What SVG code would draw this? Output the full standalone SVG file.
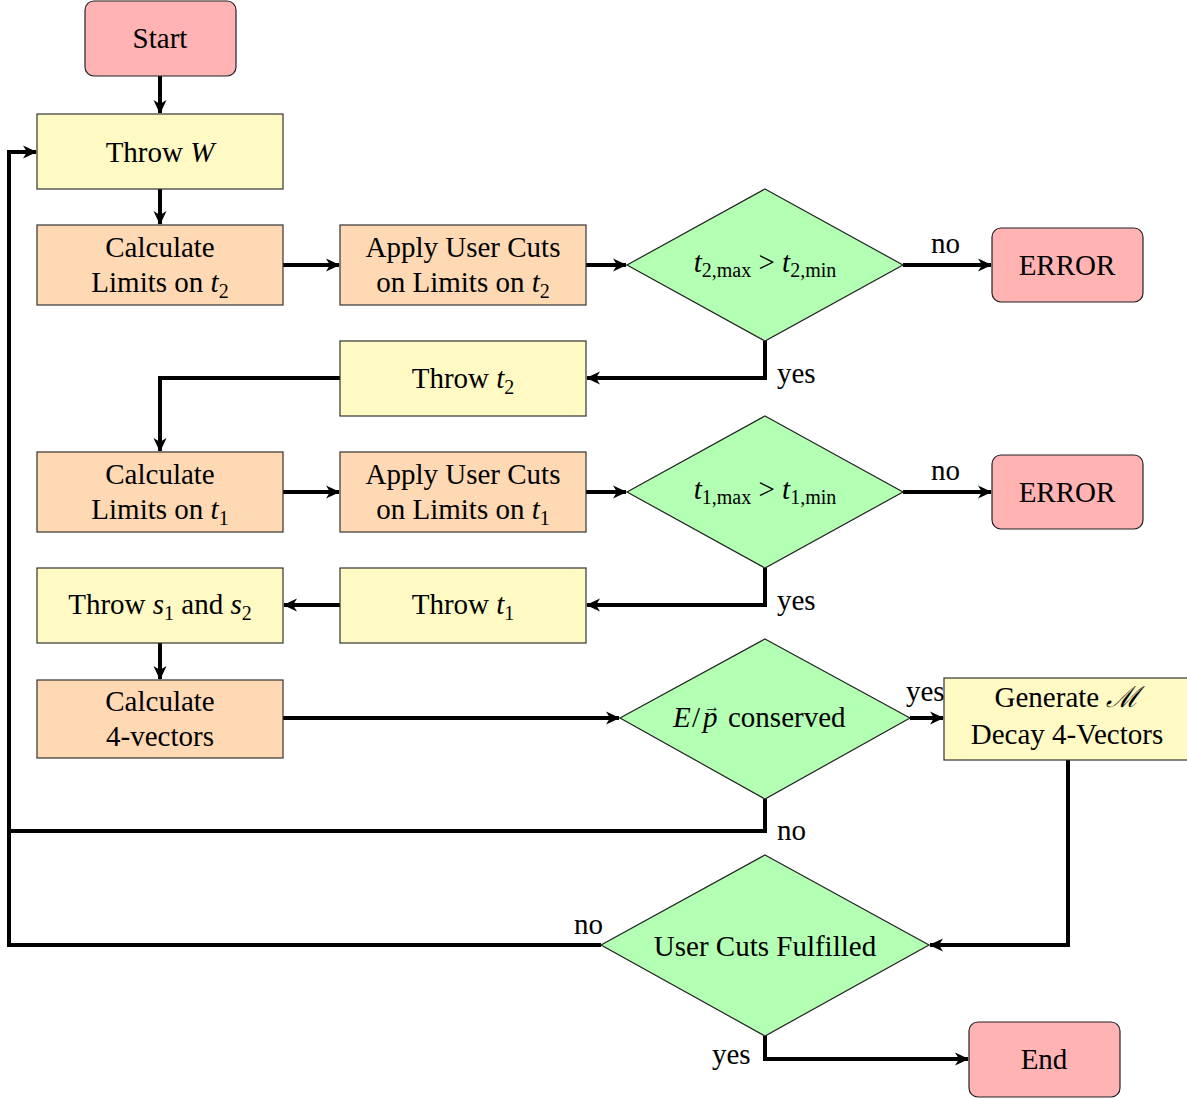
<svg xmlns="http://www.w3.org/2000/svg" width="1187" height="1099" viewBox="0 0 1187 1099">
<style>
text{font-family:"Liberation Serif","DejaVu Serif",serif;font-size:29px;fill:#000;text-anchor:middle}
.i{font-style:italic}
.s{font-size:20px}
.term{fill:#ffb3b3;stroke:#222;stroke-width:1.2}
.io{fill:#fff9c4;stroke:#333;stroke-width:1.2}
.proc{fill:#ffd9b3;stroke:#333;stroke-width:1.2}
.dec{fill:#b3ffb3;stroke:#222;stroke-width:1.2}
.c{fill:none;stroke:#000;stroke-width:4}
.a{marker-end:url(#ah)}
.lbl{text-anchor:start}
</style>
<defs>
<marker id="ah" viewBox="0 0 14 14" refX="13" refY="7" markerWidth="14" markerHeight="14" markerUnits="userSpaceOnUse" orient="auto">
<path d="M0,0.5 L14,7 L0,13.5 L4,7 Z" fill="#000"/>
</marker>
</defs>
<g id="connectors">
<path class="c a" d="M160,76 V113"/>
<path class="c a" d="M160,189 V224"/>
<path class="c a" d="M283,265 H339"/>
<path class="c a" d="M586,265 H626"/>
<path class="c a" d="M903,265 H991"/>
<path class="c a" d="M765,341 V378 H587"/>
<path class="c a" d="M340,378 H160 V451"/>
<path class="c a" d="M283,492 H339"/>
<path class="c a" d="M586,492 H626"/>
<path class="c a" d="M903,492 H991"/>
<path class="c a" d="M765,568 V605 H587"/>
<path class="c a" d="M340,605 H284"/>
<path class="c a" d="M160,643 V679"/>
<path class="c a" d="M283,718 H619"/>
<path class="c a" d="M910,718 H943"/>
<path class="c a" d="M765,799 V831 H9 V152 H36"/>
<path class="c" d="M601,945 H9 V831"/>
<path class="c a" d="M1068,760 V945 H930"/>
<path class="c a" d="M765,1036 V1059 H968"/>
<text class="lbl" x="931" y="253">no</text>
<text class="lbl" x="777" y="383">yes</text>
<text class="lbl" x="931" y="480">no</text>
<text class="lbl" x="777" y="610">yes</text>
<text class="lbl" x="906" y="701">yes</text>
<text class="lbl" x="777" y="840">no</text>
<text class="lbl" x="574" y="934">no</text>
<text class="lbl" x="712" y="1064">yes</text>
</g>
<g id="start"><rect class="term" x="85" y="1" width="151" height="75" rx="9"/><text x="160" y="48">Start</text></g>
<g id="throwW"><rect class="io" x="37" y="114" width="246" height="75"/><text x="160" y="162">Throw <tspan class="i">W</tspan></text></g>
<g id="calcT2"><rect class="proc" x="37" y="225" width="246" height="80"/><text x="160" y="257">Calculate</text><text x="160" y="292">Limits on <tspan class="i">t</tspan><tspan class="s" dy="6">2</tspan></text></g>
<g id="applyT2"><rect class="proc" x="340" y="225" width="246" height="80"/><text x="463" y="257">Apply User Cuts</text><text x="463" y="292">on Limits on <tspan class="i">t</tspan><tspan class="s" dy="6">2</tspan></text></g>
<g id="dec1"><polygon class="dec" points="765,189 903,265 765,341 627,265"/><text x="765" y="272"><tspan class="i">t</tspan><tspan class="s" dy="5">2,max</tspan><tspan dy="-5"> &gt; </tspan><tspan class="i">t</tspan><tspan class="s" dy="5">2,min</tspan></text></g>
<g id="error1"><rect class="term" x="992" y="228" width="151" height="74" rx="9"/><text x="1067" y="275">ERROR</text></g>
<g id="throwT2"><rect class="io" x="340" y="341" width="246" height="75"/><text x="463" y="388">Throw <tspan class="i">t</tspan><tspan class="s" dy="6">2</tspan></text></g>
<g id="calcT1"><rect class="proc" x="37" y="452" width="246" height="80"/><text x="160" y="484">Calculate</text><text x="160" y="519">Limits on <tspan class="i">t</tspan><tspan class="s" dy="6">1</tspan></text></g>
<g id="applyT1"><rect class="proc" x="340" y="452" width="246" height="80"/><text x="463" y="484">Apply User Cuts</text><text x="463" y="519">on Limits on <tspan class="i">t</tspan><tspan class="s" dy="6">1</tspan></text></g>
<g id="dec2"><polygon class="dec" points="765,416 903,492 765,568 627,492"/><text x="765" y="499"><tspan class="i">t</tspan><tspan class="s" dy="5">1,max</tspan><tspan dy="-5"> &gt; </tspan><tspan class="i">t</tspan><tspan class="s" dy="5">1,min</tspan></text></g>
<g id="error2"><rect class="term" x="992" y="455" width="151" height="74" rx="9"/><text x="1067" y="502">ERROR</text></g>
<g id="throwS"><rect class="io" x="37" y="568" width="246" height="75"/><text x="160" y="614">Throw <tspan class="i">s</tspan><tspan class="s" dy="6">1</tspan><tspan dy="-6"> and </tspan><tspan class="i">s</tspan><tspan class="s" dy="6">2</tspan></text></g>
<g id="throwT1"><rect class="io" x="340" y="568" width="246" height="75"/><text x="463" y="614">Throw <tspan class="i">t</tspan><tspan class="s" dy="6">1</tspan></text></g>
<g id="calc4v"><rect class="proc" x="37" y="680" width="246" height="78"/><text x="160" y="711">Calculate</text><text x="160" y="746">4-vectors</text></g>
<g id="dec3"><polygon class="dec" points="765,639 910,718 765,799 620,718"/><text class="lbl" y="727"><tspan class="i" x="673">E</tspan><tspan x="692">/</tspan><tspan class="i" x="703">p</tspan><tspan x="728">conserved</tspan><tspan x="704" dy="-15" style="font-size:16px">→</tspan></text></g>
<g id="generate"><rect class="io" x="944" y="678" width="250" height="82"/><text x="1067" y="707">Generate <tspan class="i">ℳ</tspan></text><text x="1067" y="744">Decay 4-Vectors</text></g>
<g id="dec4"><polygon class="dec" points="765,855 929,945 765,1036 601,945"/><text x="765" y="956">User Cuts Fulfilled</text></g>
<g id="end"><rect class="term" x="969" y="1022" width="151" height="75" rx="9"/><text x="1044" y="1069">End</text></g>
</svg>
